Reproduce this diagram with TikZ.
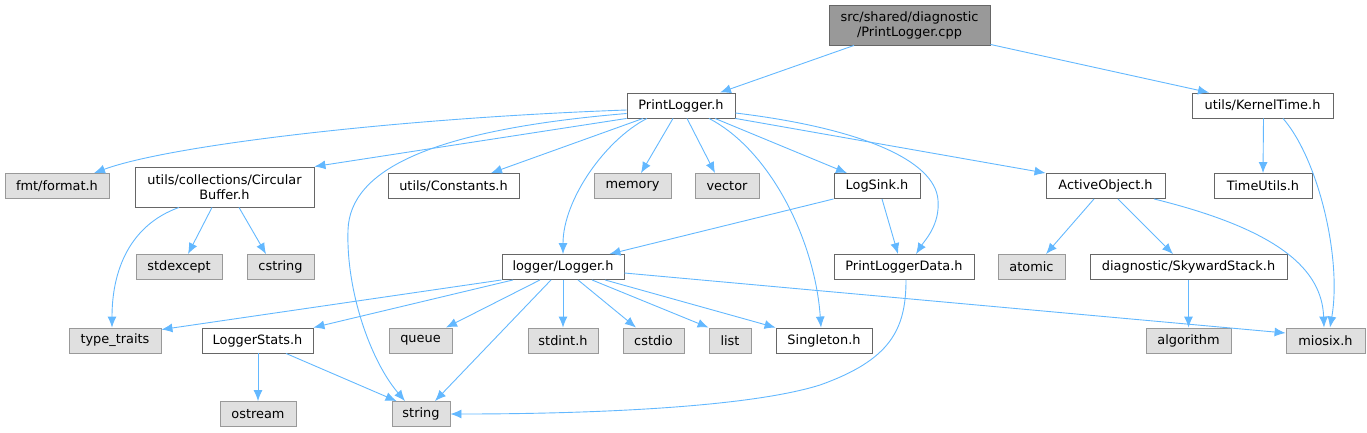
\documentclass[tikz,border=0pt]{standalone}
\usepackage{fontspec}
\setmainfont{DejaVu Sans}
\usetikzlibrary{arrows.meta}
\definecolor{edgeblue}{HTML}{63B8FF}
\definecolor{sysfill}{HTML}{E0E0E0}
\definecolor{sysborder}{HTML}{999999}
\definecolor{locborder}{HTML}{666666}
\definecolor{srcfill}{HTML}{999999}
\begin{document}
\begin{tikzpicture}[x=1pt,y=-1pt,line width=0.9pt,>={Latex[length=11pt,width=9pt]},
  every node/.style={font=\fontsize{12.9}{15}\selectfont,inner sep=0pt,align=center,minimum height=25pt,line width=0.9pt},
  sysh/.style={draw=sysborder,fill=sysfill},
  loch/.style={draw=locborder,fill=white},
  srcf/.style={draw=locborder,fill=srcfill},
  inc/.style={->,draw=edgeblue}]
\useasboundingbox (0,0) rectangle (1367,432);
\node[srcf,minimum width=161pt,minimum height=40pt] (cpp) at (909.5,25) {src/shared/diagnostic\\/PrintLogger.cpp};
\node[loch,minimum width=108pt] (plh) at (681,105.5) {PrintLogger.h};
\node[loch,minimum width=141pt] (kt) at (1262.5,105.5) {utils/KernelTime.h};
\node[sysh,minimum width=104pt] (fmt) at (57,186) {fmt/format.h};
\node[loch,minimum width=179pt,minimum height=40pt] (cbuf) at (224.5,187) {utils/collections/Circular\\Buffer.h};
\node[loch,minimum width=131pt] (cst) at (453.5,186) {utils/Constants.h};
\node[sysh,minimum width=77pt] (mem) at (632.5,186) {memory};
\node[sysh,minimum width=64pt] (vec) at (727,186) {vector};
\node[loch,minimum width=86pt] (lsink) at (877,186) {LogSink.h};
\node[loch,minimum width=119pt] (aobj) at (1105.5,186) {ActiveObject.h};
\node[loch,minimum width=98pt] (tu) at (1263,186) {TimeUtils.h};
\node[sysh,minimum width=86pt] (sexc) at (179,267) {stdexcept};
\node[sysh,minimum width=67pt] (cstr) at (280.5,267) {cstring};
\node[loch,minimum width=122pt] (lgr) at (563,267) {logger/Logger.h};
\node[loch,minimum width=140pt] (pld) at (904,267) {PrintLoggerData.h};
\node[sysh,minimum width=67pt] (atm) at (1031.5,267) {atomic};
\node[loch,minimum width=197pt] (sks) at (1188.5,267) {diagnostic/SkywardStack.h};
\node[sysh,minimum width=92pt] (tt) at (115,340.5) {type\_traits};
\node[loch,minimum width=111pt] (lst) at (257.5,340.5) {LoggerStats.h};
\node[sysh,minimum width=63pt] (que) at (420.5,340.5) {queue};
\node[sysh,minimum width=70pt] (sint) at (563,340.5) {stdint.h};
\node[sysh,minimum width=61pt] (cio) at (653.5,340.5) {cstdio};
\node[sysh,minimum width=42pt] (lis) at (730,340.5) {list};
\node[loch,minimum width=96pt] (sgl) at (824,340.5) {Singleton.h};
\node[sysh,minimum width=85pt] (alg) at (1188.5,340.5) {algorithm};
\node[sysh,minimum width=79pt] (mio) at (1325.5,340.5) {miosix.h};
\node[sysh,minimum width=76pt] (ost) at (258,414) {ostream};
\node[sysh,minimum width=58pt] (str) at (421,414) {string};

\draw[inc] ([xshift=-55.5pt]cpp.south) -- ([xshift=39pt]plh.north);
\draw[inc] ([yshift=1pt]cpp.south east) -- ([xshift=-53.5pt]kt.north);
\draw[inc] ([xshift=1pt]kt.south) -- (tu.north);
\draw[inc] ([xshift=20.5pt]kt.south) .. controls +(35,40) and +(12,-70) .. ([xshift=4.5pt]mio.north);
\draw[inc] ([yshift=-4.5pt]plh.west) .. controls (400,118) and (170,145) .. ([xshift=37pt]fmt.north);
\draw[inc] (plh.south west) -- (cbuf.north east);
\draw[inc] ([yshift=-8pt]plh.west) .. controls (430,130) and (350,170) .. (348,230) .. controls (346,290) and (370,360) .. ([xshift=-16pt]str.north);
\draw[inc] ([xshift=-38pt]plh.south) -- ([xshift=37.5pt]cst.north);
\draw[inc] ([xshift=-34pt]plh.south) .. controls (605,140) and (563,200) .. (lgr.north);
\draw[inc] ([xshift=-8pt]plh.south) -- ([xshift=8.5pt]mem.north);
\draw[inc] ([xshift=6pt]plh.south) -- ([xshift=-12pt]vec.north);
\draw[inc] ([xshift=28pt]plh.south) .. controls (770,150) and (815,240) .. ([xshift=-3pt]sgl.north);
\draw[inc] ([xshift=34pt]plh.south) -- ([xshift=-30pt]lsink.north);
\draw[inc] ([yshift=-7.5pt]plh.east) .. controls (860,128) and (935,160) .. (938,200) .. controls (940,225) and (925,240) .. ([xshift=12pt]pld.north);
\draw[inc] (plh.south east) -- (aobj.north west);
\draw[inc] ([xshift=-45.5pt]cbuf.south) .. controls (130,225) and (112,270) .. ([xshift=-3pt]tt.north);
\draw[inc] ([xshift=-12.5pt]cbuf.south) -- ([xshift=9pt]sexc.north);
\draw[inc] ([xshift=14.5pt]cbuf.south) -- ([xshift=-14.5pt]cstr.north);
\draw[inc] (lsink.south west) -- ([xshift=-15pt]lgr.north east);
\draw[inc] ([xshift=5pt]lsink.south) -- ([xshift=-6pt]pld.north);
\draw[inc] ([xshift=-11.5pt]aobj.south) -- ([xshift=14.5pt]atm.north);
\draw[inc] ([xshift=12.5pt]aobj.south) -- ([xshift=-15.5pt]sks.north);
\draw[inc] ([xshift=48.5pt]aobj.south) .. controls (1280,230) and (1322,270) .. ([xshift=-1.5pt]mio.north);
\draw[inc] (sks.south) -- (alg.north);
\draw[inc] ([xshift=2pt]pld.south) .. controls (906,330) and (890,360) .. (820,385) .. controls (740,410) and (560,414) .. (str.east);
\draw[inc] (lgr.south west) -- ([yshift=-2pt]tt.north east);
\draw[inc] ([xshift=-50pt]lgr.south) -- (lst.north east);
\draw[inc] ([xshift=-23pt]lgr.south) -- ([xshift=25.5pt]que.north);
\draw[inc] ([xshift=-12pt]lgr.south) -- ([xshift=14pt]str.north);
\draw[inc] (lgr.south) -- (sint.north);
\draw[inc] ([xshift=15pt]lgr.south) -- ([xshift=-17.5pt]cio.north);
\draw[inc] ([xshift=29pt]lgr.south) -- (lis.north west);
\draw[inc] ([xshift=42pt]lgr.south) -- (sgl.north west);
\draw[inc] ([yshift=-6pt]lgr.east) -- ([yshift=7.5pt]mio.west);
\draw[inc] ([xshift=0.5pt]lst.south) -- (ost.north);
\draw[inc] ([xshift=28.5pt]lst.south) -- ([xshift=5pt]str.north west);
\end{tikzpicture}
\end{document}
